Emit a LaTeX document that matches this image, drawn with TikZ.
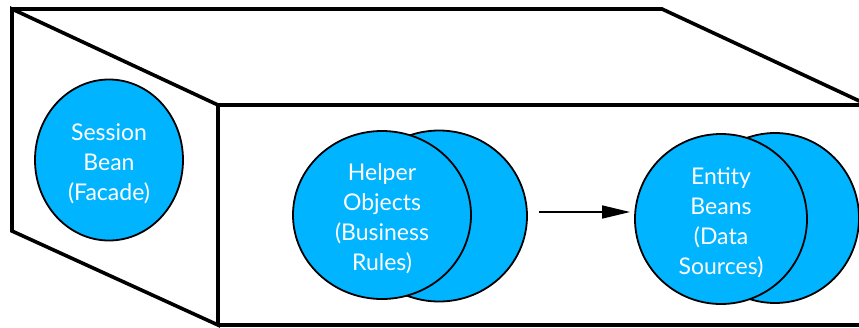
\documentclass[tikz,border=0pt]{standalone}
\usepackage{fontspec}
\setmainfont{Lato}
\usetikzlibrary{shapes.geometric,arrows.meta}
\definecolor{beanblue}{RGB}{0,180,255}
\tikzset{
  frame/.style={line width=3.6pt, line join=miter},
  bean/.style={ellipse, draw=black, line width=1.8pt, fill=beanblue, inner sep=0pt},
  beantext/.style={text=white, align=center, inner sep=0pt,
    font=\fontsize{23}{30}\selectfont},
  flow/.style={line width=1.6pt, -{Triangle[length=28pt,width=13pt]}}
}
\begin{document}
\begin{tikzpicture}[x=1pt,y=-1pt]
\useasboundingbox (0,0) rectangle (859,327);
\clip (0,0) rectangle (859,327);
% container outline: side face, top face and front face
\draw[frame] (12,231) -- (12,9) -- (662,9) -- (868,105);
\draw[frame] (12,9) -- (218,105) -- (218,325) -- (12,231) -- cycle;
\draw[frame] (218,105) -- (870,105);
\draw[frame] (218,325) -- (870,325);
% session facade
\node[bean, minimum width=148pt, minimum height=161pt] (sb) at (109,160) {};
\node[beantext] (sbt) at ([yshift=-4pt]sb.center) {Session\\Bean\\(Facade)};
% helper objects: stacked pair
\node[bean, minimum width=176pt, minimum height=171pt] (hb) at (439,216) {};
\node[bean, minimum width=178pt, minimum height=168pt] (hf) at (382,215) {};
\node[beantext] (hft) at ([yshift=-4pt]hf.center) {Helper\\Objects\\(Business\\Rules)};
% entity beans: stacked pair
\node[bean, minimum width=168pt, minimum height=170pt] (eb) at (775,218) {};
\node[bean, minimum width=172pt, minimum height=170pt] (ef) at (721,219) {};
\node[beantext] (eft) at ([yshift=-4pt]ef.center) {Entity\\Beans\\(Data\\Sources)};
% dependency arrow
\draw[flow, shorten <=11pt, shorten >=4pt] (hb.east |- 0,212) -- (ef.west |- 0,212);
\end{tikzpicture}
\end{document}
